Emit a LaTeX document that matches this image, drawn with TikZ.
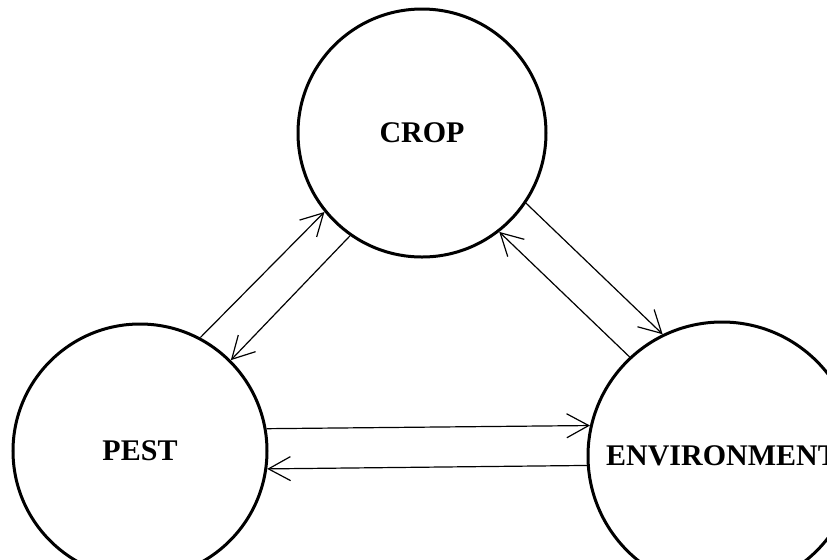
\documentclass[tikz,border=0pt]{standalone}
\usepackage{fontspec}
\setmainfont{Liberation Serif}
\usetikzlibrary{arrows.meta}
\tikzstyle{factor}=[
    circle, draw,
    line width=1.5pt,
    inner sep=0pt,
    font=\bfseries\fontsize{15}{18}\selectfont,
]
\tikzstyle{flow}=[
    ->,
    >={Straight Barb[length=11pt,width=12pt]},
    line width=0.6pt,
]

\begin{document}
\begin{tikzpicture}[x=0.5pt,y=-0.5pt]
        \useasboundingbox (0,0) rectangle (827,559);
        \node[factor, minimum size=124pt] (crop) at (422,133) {CROP};
        \node[factor, minimum size=127pt] (pest) at (140,451) {PEST};
        \node[factor, minimum size=134pt] (env) at (722,456) {ENVIRONMENT};
        \draw[flow] (pest.62.6) -- (crop.219.3);
        \draw[flow] (crop.235.6) -- (pest.45.6);
        \draw[flow] (crop.326) -- (env.116.7);
        \draw[flow] (env.133.3) -- (crop.308.5);
        \draw[flow] (pest.10.4) -- (env.167.9);
        \draw[flow] (env.184.7) -- (pest.352.8);
    \end{tikzpicture}
\end{document}
